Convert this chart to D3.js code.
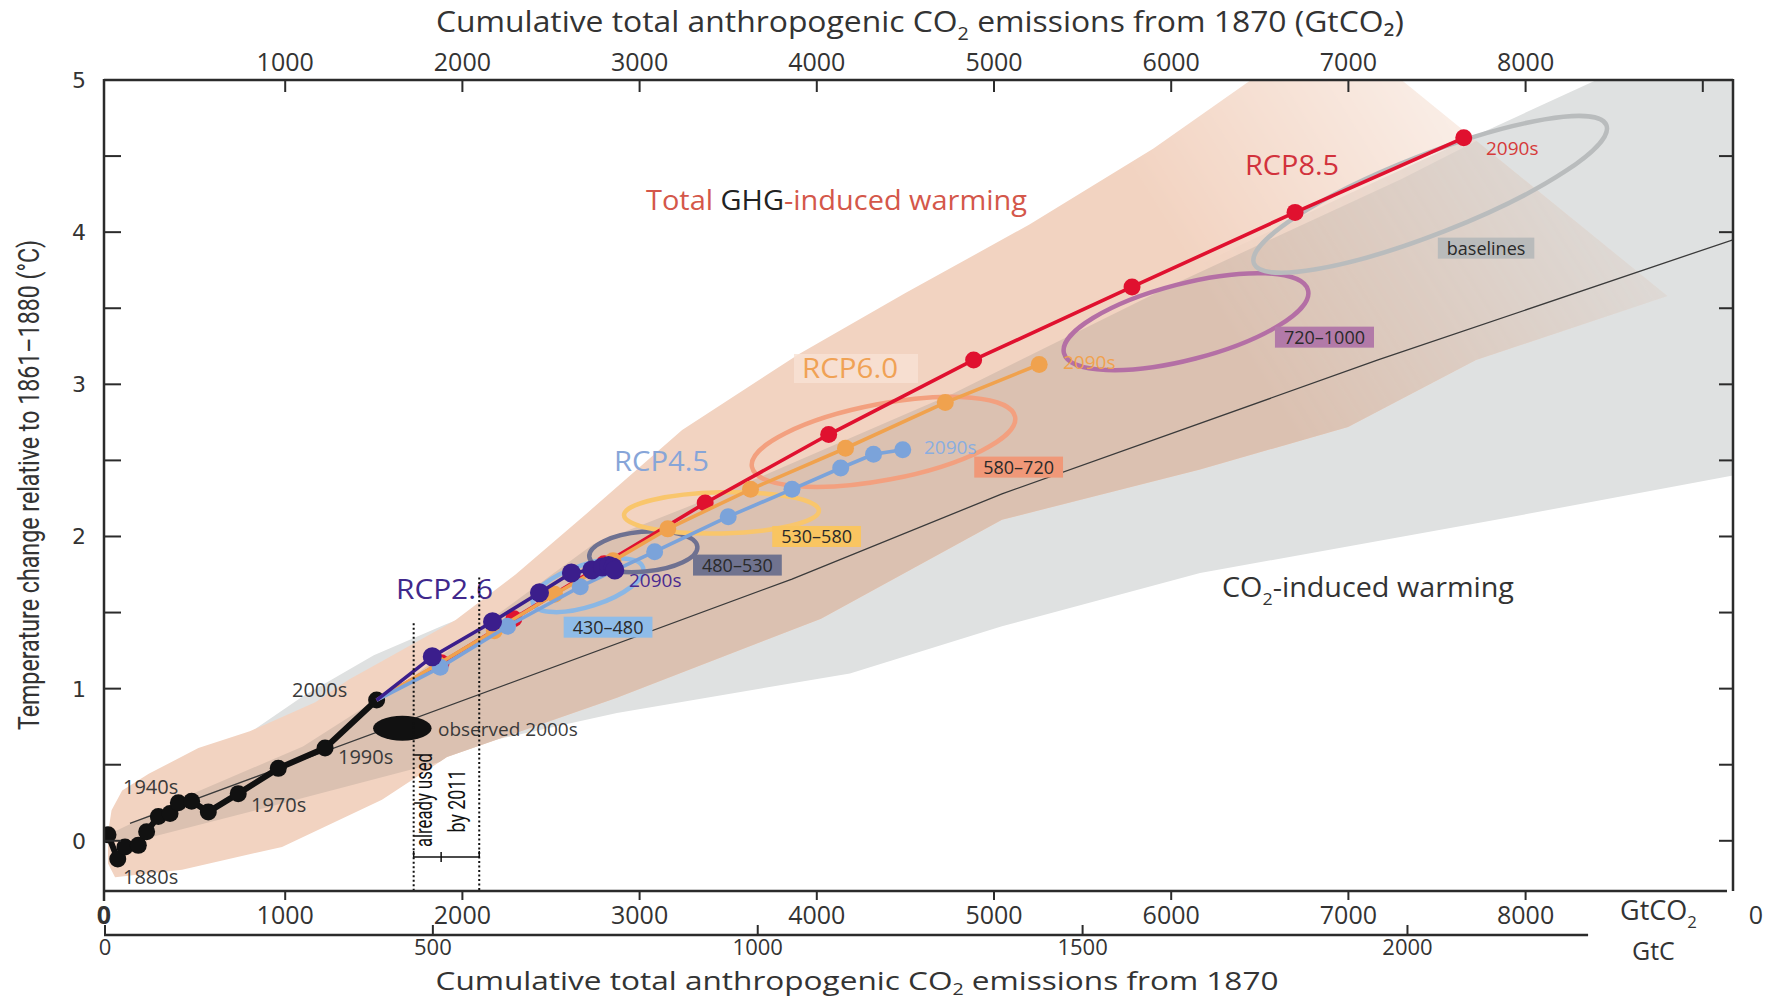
<!DOCTYPE html>
<html><head><meta charset="utf-8">
<script src="https://cdn.jsdelivr.net/npm/d3@7/dist/d3.min.js"></script>
<style>
body{margin:0;background:#fff;}
svg{display:block;}
</style></head><body>
<svg id="chart" width="1775" height="1002"></svg>
<script>
// ---------------- DATA ----------------
// Historical decades (cumulative GtCO2 since 1870, temperature °C)
const histDecades = ["1870s","1880s","1890s","1900s","1910s","1920s","1930s","1940s","1950s","1960s","1970s","1980s","1990s","2000s"];
const histCum  = [0, 55, 96, 171, 218, 284, 350, 397, 472, 566, 735, 961, 1225, 1516];
const histTemp = [0.04, -0.12, -0.04, -0.03, 0.06, 0.16, 0.18, 0.25, 0.26, 0.19, 0.31, 0.476, 0.61, 0.925];

// RCP decades 2010s..2090s
const rcpDecades = ["2010s","2020s","2030s","2040s","2050s","2060s","2070s","2080s","2090s"];
const rcp85Cum  = [1880, 2290, 2800, 3370, 4067, 4885, 5779, 6699, 7651];
const rcp85Temp = [1.17, 1.46, 1.82, 2.22, 2.67, 3.16, 3.64, 4.13, 4.62];
const rcp60Cum  = [1860, 2180, 2520, 2850, 3159, 3626, 4162, 4725, 5255];
const rcp60Temp = [1.16, 1.38, 1.62, 1.84, 2.05, 2.31, 2.58, 2.88, 3.13];
const rcp45Cum  = [1875, 2255, 2665, 3085, 3500, 3860, 4135, 4320, 4485];
const rcp45Temp = [1.14, 1.41, 1.67, 1.90, 2.13, 2.31, 2.45, 2.54, 2.57];
const rcp26Cum  = [1830, 2170, 2435, 2615, 2730, 2790, 2825, 2850, 2860];
const rcp26Temp = [1.21, 1.44, 1.63, 1.76, 1.78, 1.80, 1.81, 1.80, 1.78];

// CO2-induced warming (1%/yr runs) mean line
const co2LineCum  = [124, 3860, 5045, 7167, 9170];
const co2LineTemp = [0.115, 1.72, 2.28, 3.16, 3.95];

// CO2-induced warming range (grey)
const greyUpperCum  = [0, 600, 1100, 1500, 1900, 2400, 3000, 4000, 5000, 6000, 7000, 8400, 9170];
const greyUpperTemp = [0.05, 0.55, 0.95, 1.22, 1.42, 1.65, 1.95, 2.55, 3.1, 3.7, 4.25, 5.0, 5.0];
const greyLowerCum  = [9170, 7833, 6163, 5045, 4187, 2872, 1862, 1000, 300, 0];
const greyLowerTemp = [2.40, 2.11, 1.76, 1.41, 1.10, 0.84, 0.58, 0.30, 0.0, -0.05];

// Total GHG-induced warming plume (all RCPs)
const plumeUpperCum  = [0, 20, 80, 230, 510, 800, 1170, 1360, 1500, 1960, 2300, 2700, 3240, 3900, 4500, 5200, 5900, 6450, 7300];
const plumeUpperTemp = [0.05, 0.2, 0.33, 0.44, 0.61, 0.72, 0.91, 1.06, 1.15, 1.45, 1.75, 2.15, 2.7, 3.2, 3.6, 4.05, 4.55, 5.0, 5.0];
const plumeLowerCum  = [8800, 7720, 6998, 6163, 5045, 4024, 2872, 1913, 1546, 982, 418, 40, 0];
const plumeLowerTemp = [3.58, 3.16, 2.72, 2.44, 2.11, 1.46, 0.94, 0.55, 0.27, -0.04, -0.19, -0.24, -0.15];
// denser core of the plume
const coreUpperCum  = [0, 500, 1100, 1720, 2330, 2740, 3500, 4770, 6000, 7300, 8400];
const coreUpperTemp = [0.04, 0.32, 0.62, 1.08, 1.6, 1.95, 2.3, 2.94, 3.65, 4.35, 5.0];
const coreLowerCum  = [9300, 9300, 3000, 1913, 900, 230, 0];
const coreLowerTemp = [5.0, 0.7, 0.7, 0.53, 0.22, 0.02, 0.0];

// CO2-eq concentration categories (ppm) – ellipse major-axis ends and half-width (°C)
const ellipseNames = ["430–480","480–530","530–580","580–720","720–1000","baselines"];
const ellipseX1 = [2398, 2716, 2912, 3634, 5395, 6467];
const ellipseY1 = [1.561, 1.867, 2.14, 2.457, 3.204, 3.794];
const ellipseX2 = [3019, 3326, 4012, 5119, 6772, 8456];
const ellipseY2 = [1.798, 1.933, 2.17, 2.786, 3.619, 4.703];
const ellipseHalfT = [0.138, 0.131, 0.135, 0.25, 0.25, 0.26];
const ellipseLabelX = [2822, 3552, 3999, 5139, 6865, 7777];
const ellipseLabelY = [1.404, 1.812, 2.0, 2.456, 3.31, 3.895];

// Observed 2000s
const obsCum = 1661, obsTemp = 0.74, obsCumHalf = 165, obsTempHalf = 0.082;
// Already used by 2011 (range + best estimate, GtCO2)
const usedLow = 1725, usedHigh = 2095, usedBest = 1880;

// Axis ticks
const topTicks = [1000,2000,3000,4000,5000,6000,7000,8000,9000];
const topTickLabels = ["1000","2000","3000","4000","5000","6000","7000","8000",""];
const bottomTicks = [0,1000,2000,3000,4000,5000,6000,7000,8000];
const bottomTickLabels = ["0","1000","2000","3000","4000","5000","6000","7000","8000"];
const gtcTicks = [0,500,1000,1500,2000];
const gtcTickLabels = ["0","500","1000","1500","2000"];
const yTicks = [0,1,2,3,4,5];
const yTickLabels = ["0","1","2","3","4","5"];
const yMinorTicks = [0,0.5,1,1.5,2,2.5,3,3.5,4,4.5];

// ---------------- DRAW ----------------
const svg = d3.select("#chart");
const W = 1775, H = 1002;
const box = {l:104, t:80, r:1733, b:891};
const x = d3.scaleLinear().domain([0, 9000]).range([108, 1702.8]);
const y = d3.scaleLinear().domain([0, 5]).range([840.8, 80]);
const GTC = 44/12;
const zip = (a,b) => a.map((v,i)=>[v,b[i]]);
const line = d3.line().x(d=>x(d[0])).y(d=>y(d[1]));
const poly = d3.line().x(d=>x(d[0])).y(d=>y(d[1])).curve(d3.curveLinearClosed);

const SANS = "'Open Sans', 'Noto Sans', sans-serif";
const NARROW = "'Liberation Sans Narrow', 'Roboto', sans-serif";
const DARK = "#333";

const defs = svg.append("defs");
defs.append("clipPath").attr("id","plotClip").append("rect")
  .attr("x",box.l).attr("y",box.t).attr("width",box.r-box.l).attr("height",box.b-box.t);
const plumePts = zip(plumeUpperCum, plumeUpperTemp).concat(zip(plumeLowerCum, plumeLowerTemp));
defs.append("clipPath").attr("id","plumeClip").append("path").attr("d", poly(plumePts));
const grad = defs.append("linearGradient").attr("id","fadeGrad")
  .attr("gradientUnits","userSpaceOnUse").attr("x1",1230).attr("y1",330).attr("x2",1660).attr("y2",60);
grad.append("stop").attr("offset",0).attr("stop-color","#fff");
grad.append("stop").attr("offset",1).attr("stop-color","#000");
defs.append("mask").attr("id","fadeMask").attr("maskUnits","userSpaceOnUse")
  .attr("x",0).attr("y",0).attr("width",W).attr("height",H)
  .append("rect").attr("x",0).attr("y",0).attr("width",W).attr("height",H).attr("fill","url(#fadeGrad)");

const plot = svg.append("g").attr("clip-path","url(#plotClip)");

// grey CO2-induced range
plot.append("path")
  .attr("d", poly(zip(greyUpperCum, greyUpperTemp).concat(zip(greyLowerCum, greyLowerTemp))))
  .attr("fill","#dfe1e1");

// plume
const plumeG = plot.append("g").attr("mask","url(#fadeMask)");
plumeG.append("path").attr("d", poly(plumePts)).attr("fill","#f2d3c1");
plumeG.append("path")
  .attr("d", poly(zip(coreUpperCum, coreUpperTemp).concat(zip(coreLowerCum, coreLowerTemp))))
  .attr("fill","#dbc1b1").attr("clip-path","url(#plumeClip)");

// CO2-only mean line
plot.append("path").attr("d", line(zip(co2LineCum, co2LineTemp)))
  .attr("fill","none").attr("stroke","#3a3a3a").attr("stroke-width",1.3);

// ellipses
const ellStroke = ["#8ab7e5","#6e7191","#f9c66c","#f3a07f","#b46fa5","#b9bcbd"];
const ellFill   = ["#8fbce8","#70738f","#f9c561","#f09878","#b27aa8","#b9bbbb"];
ellipseNames.forEach((nm,i)=>{
  const x1=x(ellipseX1[i]), y1=y(ellipseY1[i]), x2=x(ellipseX2[i]), y2=y(ellipseY2[i]);
  const cx=(x1+x2)/2, cy=(y1+y2)/2;
  const a=Math.hypot(x2-x1,y2-y1)/2, ang=Math.atan2(y2-y1,x2-x1)*180/Math.PI;
  const b=y(0)-y(ellipseHalfT[i]);
  plot.append("ellipse").attr("rx",a).attr("ry",b)
    .attr("transform",`translate(${cx},${cy}) rotate(${ang})`)
    .attr("fill","none").attr("stroke",ellStroke[i]).attr("stroke-width",4.5);
});

// historical line
plot.append("path").attr("d", line(zip(histCum, histTemp)))
  .attr("fill","none").attr("stroke","#111").attr("stroke-width",6).attr("stroke-linejoin","round");
plot.selectAll("circle.hist").data(zip(histCum, histTemp)).enter().append("circle")
  .attr("cx",d=>x(d[0])).attr("cy",d=>y(d[1])).attr("r",8.5).attr("fill","#111");

// observed 2000s
plot.append("ellipse").attr("cx",x(obsCum)).attr("cy",y(obsTemp))
  .attr("rx",x(obsCum+obsCumHalf)-x(obsCum)).attr("ry",y(0)-y(obsTempHalf)).attr("fill","#111");

// RCP lines
const start = [histCum[histCum.length-1], histTemp[histTemp.length-1]];
const rcps = [
  {c:"#e0112f", cum:rcp85Cum, t:rcp85Temp, r:8.5},
  {c:"#f0a24e", cum:rcp60Cum, t:rcp60Temp, r:8.5},
  {c:"#7ba3da", cum:rcp45Cum, t:rcp45Temp, r:8.5},
  {c:"#3b1e8c", cum:rcp26Cum, t:rcp26Temp, r:9.5}
];
rcps.forEach(s=>{
  const pts=[start].concat(zip(s.cum,s.t));
  plot.append("path").attr("d",line(pts)).attr("fill","none").attr("stroke",s.c).attr("stroke-width",3.6);
  plot.selectAll(null).data(zip(s.cum,s.t)).enter().append("circle")
    .attr("cx",d=>x(d[0])).attr("cy",d=>y(d[1])).attr("r",s.r).attr("fill",s.c);
});

// ellipse labels
ellipseNames.forEach((nm,i)=>{
  const cx=x(ellipseLabelX[i]), cy=y(ellipseLabelY[i]);
  const g=svg.append("g");
  const t=g.append("text").attr("x",cx).attr("y",cy+6.5).attr("text-anchor","middle")
    .attr("font-family",SANS).attr("font-size",18).attr("fill","#2a2a2a").text(nm);
  const bb=t.node().getBBox();
  g.insert("rect","text").attr("x",bb.x-9).attr("y",cy-10.5).attr("width",bb.width+18).attr("height",21)
    .attr("fill",ellFill[i]);
});

// ---------- text annotations ----------
function txt(xp, yp, s, opt={}){
  const t = svg.append("text").attr("x",xp).attr("y",yp)
    .attr("font-family",opt.font||SANS).attr("font-size",opt.size||16)
    .attr("fill",opt.fill||DARK).attr("text-anchor",opt.anchor||"start")
    .attr("font-weight",opt.weight||"normal").text(s);
  if(opt.len) t.attr("textLength",opt.len).attr("lengthAdjust","spacingAndGlyphs");
  return t;
}
function co2txt(xp, yp, before, after, opt={}){
  const sz = opt.size||16;
  const sh = opt.sub||0.28;
  const t = svg.append("text").attr("x",xp).attr("y",yp)
    .attr("font-family",opt.font||SANS).attr("font-size",sz)
    .attr("fill",opt.fill||DARK).attr("text-anchor",opt.anchor||"start");
  t.append("tspan").text(before+"CO");
  t.append("tspan").attr("font-size",sz*0.62).attr("dy",sz*sh).text("2");
  t.append("tspan").attr("dy",-sz*sh).text(after);
  if(opt.len) t.attr("textLength",opt.len).attr("lengthAdjust","spacingAndGlyphs");
  return t;
}

// decade labels
[["2000s",292,697],["1990s",338,764],["1970s",251,812],["1940s",123,794],["1880s",123,884]]
  .forEach(d=>txt(d[1],d[2],d[0],{size:20,fill:"#3a3a3a"}));
txt(438,736,"observed 2000s",{size:19,fill:"#3a3a3a"});

// 2090s labels
txt(1486,155,"2090s",{size:19,fill:"#d63a3a"});
txt(1063,369,"2090s",{size:19,fill:"#f0a24e"});
txt(924,454,"2090s",{size:19,fill:"#8aaee0"});
txt(629,587,"2090s",{size:19,fill:"#4a2a90"});

// scenario labels
svg.append("rect").attr("x",794).attr("y",354).attr("width",124).attr("height",29).attr("fill","#f7e2d5").attr("opacity",0.8);
txt(1245,175,"RCP8.5",{size:28,fill:"#d2323c",len:94});
txt(802,378,"RCP6.0",{size:28,fill:"#f0a255",len:96});
txt(614,471,"RCP4.5",{size:28,fill:"#87a5d8",len:95});
txt(396,599,"RCP2.6",{size:28,fill:"#40288c",len:97});

// Total GHG-induced warming
const tg = svg.append("text").attr("x",646).attr("y",210).attr("font-family",SANS).attr("font-size",27)
  .attr("fill","#d4574a").attr("textLength",381).attr("lengthAdjust","spacingAndGlyphs");
tg.append("tspan").text("Total ");
tg.append("tspan").attr("fill","#222").text("GHG");
tg.append("tspan").text("-induced warming");
co2txt(1222,597,"","-induced warming",{size:27,fill:"#333",len:292});

// already used by 2011
const dot = svg.append("g").attr("stroke","#111").attr("stroke-width",2).attr("stroke-dasharray","2,2.5");
dot.append("line").attr("x1",x(usedLow)).attr("x2",x(usedLow)).attr("y1",y(1.43)).attr("y2",box.b);
dot.append("line").attr("x1",x(usedHigh)).attr("x2",x(usedHigh)).attr("y1",y(1.73)).attr("y2",box.b);
const brY = 857;
svg.append("path").attr("d",`M${x(usedLow)},${brY-6}V${brY}H${x(usedHigh)}V${brY-6}M${x(usedBest)},${brY-5}V${brY+5}`)
  .attr("fill","none").attr("stroke","#111").attr("stroke-width",1.5);
svg.append("text").attr("transform","translate(432,800) rotate(-90)").attr("text-anchor","middle")
  .attr("font-family",NARROW).attr("font-size",23).attr("fill","#111")
  .attr("textLength",94).attr("lengthAdjust","spacingAndGlyphs").text("already used");
svg.append("text").attr("transform","translate(465,801) rotate(-90)").attr("text-anchor","middle")
  .attr("font-family",NARROW).attr("font-size",23).attr("fill","#111")
  .attr("textLength",63).attr("lengthAdjust","spacingAndGlyphs").text("by 2011");

// ---------- axes / frame ----------
const ax = svg.append("g").attr("stroke","#2b2b2b").attr("fill","none");
ax.append("line").attr("x1",box.l).attr("x2",box.l).attr("y1",box.t-1).attr("y2",box.b+10).attr("stroke-width",2.5);
ax.append("line").attr("x1",box.l).attr("x2",box.r).attr("y1",box.t).attr("y2",box.t).attr("stroke-width",2.5);
ax.append("line").attr("x1",box.r).attr("x2",box.r).attr("y1",box.t-1).attr("y2",box.b).attr("stroke-width",2.5);
ax.append("line").attr("x1",box.l).attr("x2",1727).attr("y1",box.b).attr("y2",box.b).attr("stroke-width",2.5);
// y ticks
yMinorTicks.forEach(v=>{
  ax.append("line").attr("x1",box.l).attr("x2",box.l+17).attr("y1",y(v)).attr("y2",y(v)).attr("stroke-width",2);
  ax.append("line").attr("x1",box.r-14).attr("x2",box.r).attr("y1",y(v)).attr("y2",y(v)).attr("stroke-width",2);
});
yTicks.forEach((v,i)=>txt(79,y(v)+8,yTickLabels[i],{size:22,anchor:"middle",font:"'DejaVu Sans', sans-serif",fill:"#333"}));
// top ticks
topTicks.forEach((v,i)=>{
  ax.append("line").attr("x1",x(v)).attr("x2",x(v)).attr("y1",box.t).attr("y2",box.t+12).attr("stroke-width",2);
  txt(x(v),71,topTickLabels[i],{size:25,anchor:"middle"});
});
// bottom GtCO2 ticks
bottomTicks.forEach((v,i)=>{
  if(v>0) ax.append("line").attr("x1",x(v)).attr("x2",x(v)).attr("y1",box.b).attr("y2",box.b+9).attr("stroke-width",2);
  txt(v===0?box.l:x(v),924,bottomTickLabels[i],{size:25,anchor:"middle",weight:v===0?"bold":"normal"});
});
// GtC axis
const gtcY = 935;
ax.append("line").attr("x1",box.l).attr("x2",x(2278*GTC)).attr("y1",gtcY).attr("y2",gtcY).attr("stroke-width",2.5);
gtcTicks.forEach((v,i)=>{
  const xp = v===0?box.l+1:x(v*GTC);
  ax.append("line").attr("x1",xp).attr("x2",xp).attr("y1",gtcY-10).attr("y2",gtcY).attr("stroke-width",2);
  txt(xp,955,gtcTickLabels[i],{size:22,anchor:"middle"});
});
co2txt(1620,920,"Gt","",{size:27});
txt(1632,960,"GtC",{size:25});
txt(1756,924,"0",{size:25,anchor:"middle"});

// titles
co2txt(920,32,"Cumulative total anthropogenic "," emissions from 1870 (GtCO₂)",{size:30,anchor:"middle",len:968});
co2txt(857,990,"Cumulative total anthropogenic "," emissions from 1870",{size:26,anchor:"middle",len:843,sub:0.2});
svg.append("text").attr("transform","translate(39,485) rotate(-90)").attr("text-anchor","middle")
  .attr("font-family",NARROW).attr("font-size",30).attr("fill","#333")
  .attr("textLength",490).attr("lengthAdjust","spacingAndGlyphs")
  .text("Temperature change relative to 1861–1880 (°C)");
</script></body></html>
